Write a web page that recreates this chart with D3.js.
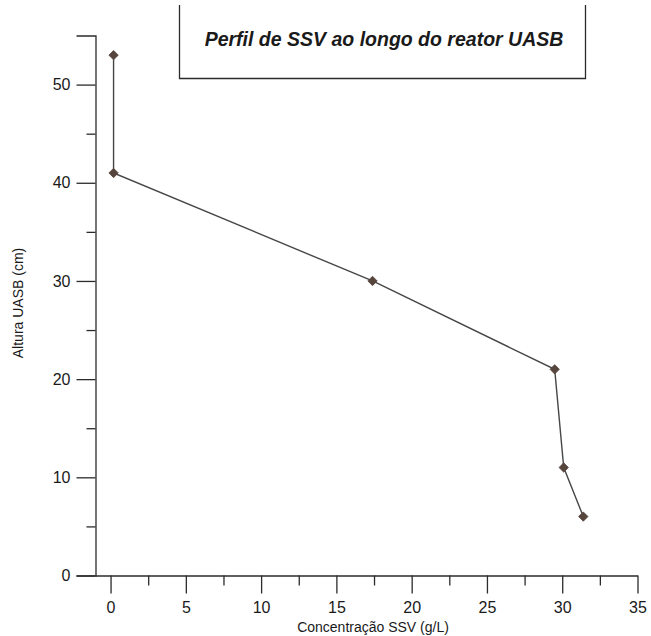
<!DOCTYPE html>
<html>
<head>
<meta charset="utf-8">
<script src="https://cdn.jsdelivr.net/npm/d3@7"></script>
<style>
  html, body { margin: 0; padding: 0; background: #fff; }
  svg { display: block; font-family: "Liberation Sans", Arial, sans-serif; }
</style>
</head>
<body>
<svg id="chart" width="651" height="636"></svg>
<script>
// Volatile suspended solids (SSV) measured at each height of the UASB reactor
const concentracao = [0.2, 0.2, 17.4, 29.5, 30.1, 31.4];   // g/L
const altura       = [53, 41, 30, 21, 11, 6];               // cm

const xMajorTicks = [0, 5, 10, 15, 20, 25, 30, 35];
const xMinorTicks = [2.5, 7.5, 12.5, 17.5, 22.5, 27.5, 32.5];
const yMajorTicks = [0, 10, 20, 30, 40, 50];
const yMinorTicks = [5, 15, 25, 35, 45];

const titulo = "Perfil de SSV ao longo do reator UASB";
const xTitulo = "Concentração SSV (g/L)";
const yTitulo = "Altura UASB (cm)";

const svg = d3.select("#chart");
const ink = "#2b2b2b";

const x = d3.scaleLinear().domain([-1, 35]).range([95.5, 637.5]);
const y = d3.scaleLinear().domain([0, 55]).range([575.5, 35.5]);

// X axis: long major ticks with labels, shorter minor ticks between them
const gx = svg.append("g").attr("transform", `translate(0,${y(0)})`);
gx.call(d3.axisBottom(x).tickValues(xMajorTicks).tickSize(18).tickSizeOuter(0).tickPadding(8));
gx.append("g").call(d3.axisBottom(x).tickValues(xMinorTicks).tickSize(10).tickFormat(""))
  .select(".domain").remove();

// Y axis
const gy = svg.append("g").attr("transform", `translate(${x(-1)},0)`);
gy.call(d3.axisLeft(y).tickValues(yMajorTicks).tickSize(19).tickSizeOuter(19).tickPadding(6));
gy.append("g").call(d3.axisLeft(y).tickValues(yMinorTicks).tickSize(9).tickFormat(""))
  .select(".domain").remove();

svg.selectAll(".domain, .tick line").attr("stroke", ink).attr("stroke-width", 1.3);
svg.selectAll(".tick text")
  .attr("fill", "#1a1a1a")
  .style("font-size", "16px")
  .style("font-family", "\"Liberation Sans\", Arial, sans-serif");

// Axis titles
svg.append("text")
  .attr("x", 373).attr("y", 632)
  .attr("text-anchor", "middle")
  .attr("fill", "#1a1a1a")
  .style("font-size", "14px")
  .text(xTitulo);

svg.append("text")
  .attr("transform", `translate(23,303) rotate(-90)`)
  .attr("text-anchor", "middle")
  .attr("fill", "#1a1a1a")
  .style("font-size", "14px")
  .text(yTitulo);

// Title frame (open at the top)
svg.append("path")
  .attr("d", "M179.5,5 V78.5 H585.5 V5")
  .attr("fill", "none")
  .attr("stroke", ink)
  .attr("stroke-width", 1.3);

svg.append("text")
  .attr("x", 384).attr("y", 46)
  .attr("text-anchor", "middle")
  .attr("fill", "#1a1a1a")
  .style("font-size", "19.5px")
  .style("font-weight", "bold")
  .style("font-style", "italic")
  .text(titulo);

// Profile line and markers
const pontos = concentracao.map((c, i) => ({ c, h: altura[i] }));

svg.append("path")
  .datum(pontos)
  .attr("fill", "none")
  .attr("stroke", "#474747")
  .attr("stroke-width", 1.4)
  .attr("d", d3.line().x(d => x(d.c)).y(d => y(d.h)));

svg.selectAll(".marker")
  .data(pontos)
  .join("path")
  .attr("class", "marker")
  .attr("transform", d => `translate(${x(d.c)},${y(d.h)})`)
  .attr("d", d3.symbol().type(d3.symbolDiamond2).size(56))
  .attr("fill", "#55453c")
  .attr("stroke", "#55453c")
  .attr("stroke-width", 0.8);
</script>
</body>
</html>
